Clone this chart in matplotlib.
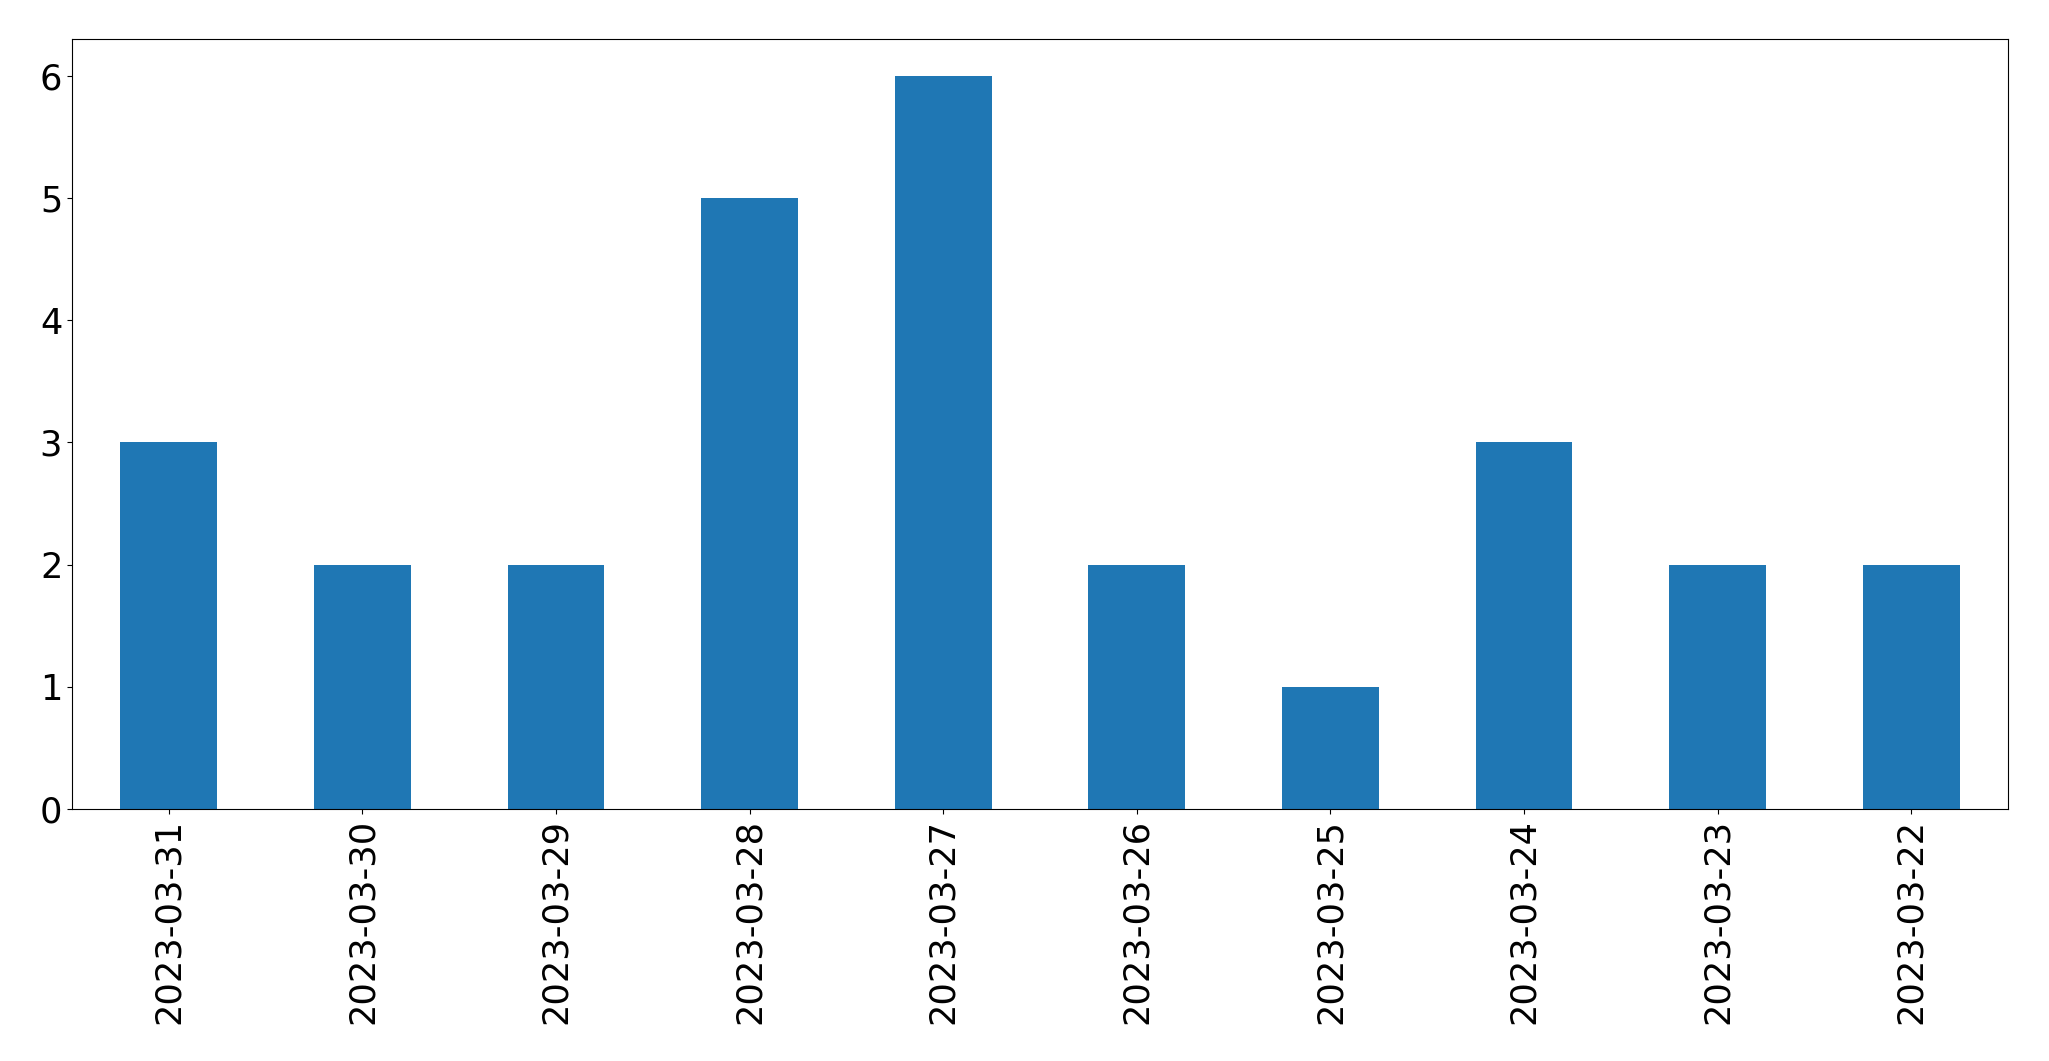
import matplotlib
matplotlib.use("Agg")
import matplotlib.pyplot as plt

dates = ["2023-03-31", "2023-03-30", "2023-03-29", "2023-03-28", "2023-03-27",
         "2023-03-26", "2023-03-25", "2023-03-24", "2023-03-23", "2023-03-22"]
counts = [3, 2, 2, 5, 6, 2, 1, 3, 2, 2]

W, H = 2049, 1061
fig = plt.figure(figsize=(W / 100, H / 100), dpi=100)
ax = fig.add_axes([72 / W, 1 - 809 / H, (2008 - 72) / W, (809 - 39) / H])

x = range(len(dates))
ax.bar(x, counts, width=0.5, color="#1f77b4")
ax.set_xlim(-0.5, len(dates) - 0.5)
ax.set_ylim(0, 6.3)
ax.set_xticks(list(x))
ax.set_xticklabels(dates, rotation=90)
ax.tick_params(labelsize=25.3)

fig.savefig("out.png", dpi=100)
